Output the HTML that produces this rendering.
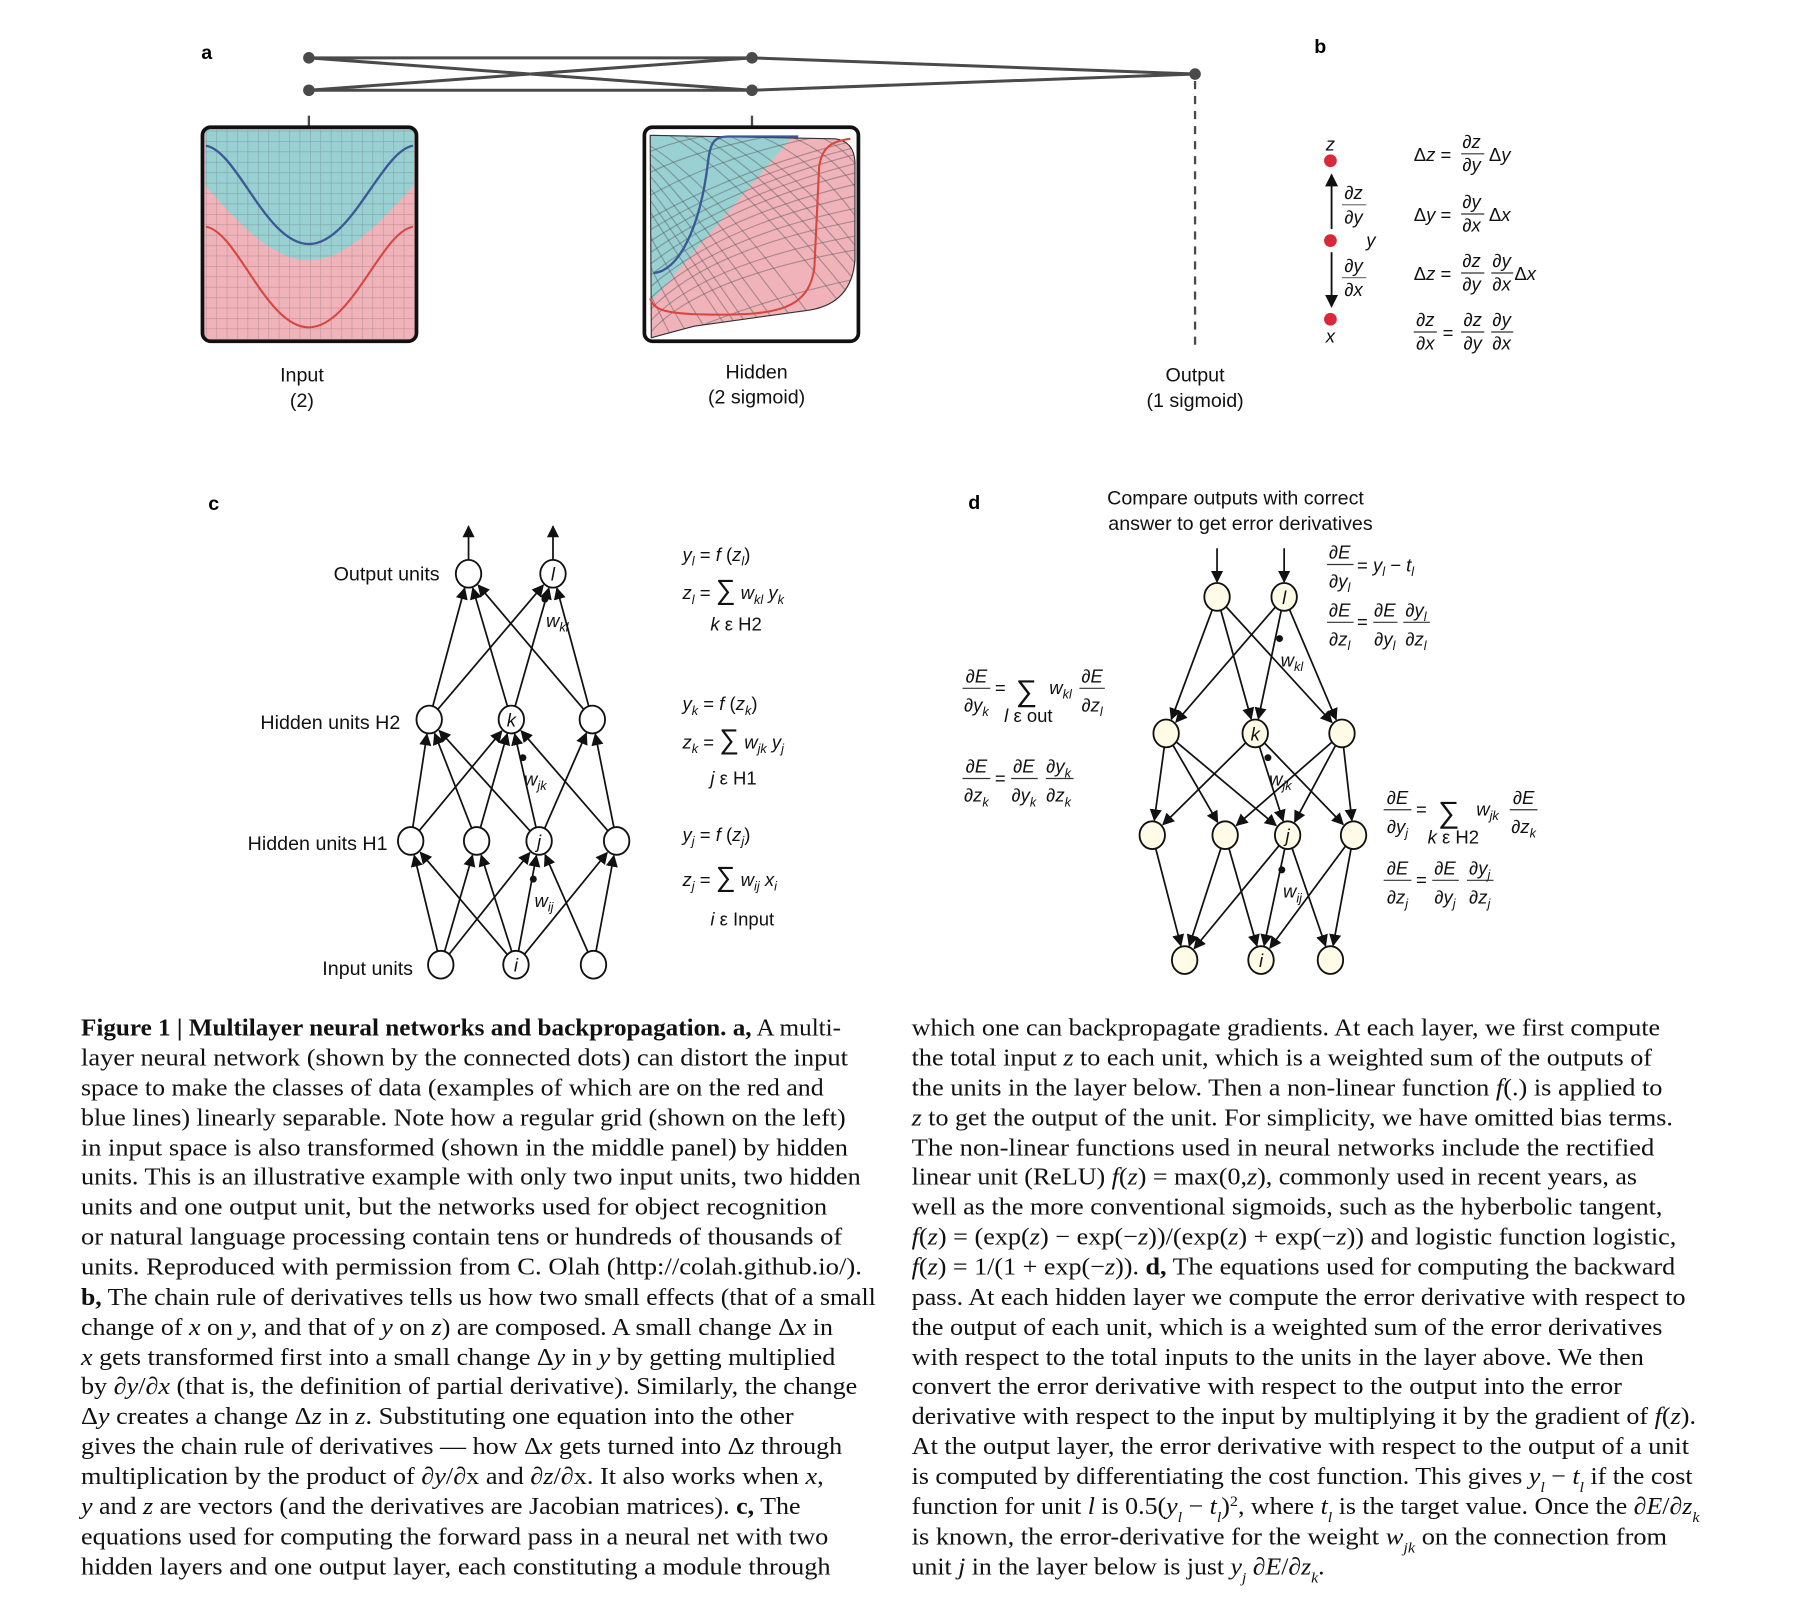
<!DOCTYPE html>
<html><head><meta charset="utf-8">
<style>
html,body{margin:0;padding:0;background:#fff;}
svg{display:block;}
.sans{font-family:"Liberation Sans",sans-serif;}
.serif{font-family:"Liberation Serif",serif;}
.cap{font-family:"Liberation Serif",serif;font-size:21px;fill:#111;}
.lbl{font-family:"Liberation Sans",sans-serif;font-size:17px;fill:#111;}
.eq{font-family:"Liberation Sans",sans-serif;font-size:16px;fill:#111;}
.it{font-style:italic;}
</style></head>
<body>
<svg id="fig" width="1814" height="1616" viewBox="0 0 1568 1397" preserveAspectRatio="none" xmlns="http://www.w3.org/2000/svg">
<defs>
<pattern id="grid" width="9" height="9" patternUnits="userSpaceOnUse" x="178" y="113">
<path d="M0 0H9M0 0V9" stroke="#555" stroke-opacity="0.35" stroke-width="1" fill="none"/>
</pattern>
<clipPath id="hidClip"><path d="M562 117 L722 120 Q738 122 739 140 L739 225 Q736 262 700 268 L600 282 Q570 290 563 292 Z"/></clipPath>
<marker id="ah" viewBox="0 0 10 10" refX="9" refY="5" markerWidth="7" markerHeight="7" orient="auto"><path d="M0 0 L10 5 L0 10 Z" fill="#111"/></marker>
</defs>

<text x="174" y="51" class="sans" font-weight="bold" font-size="17">a</text>
<text x="1136" y="46" class="sans" font-weight="bold" font-size="17">b</text>
<text x="180" y="441" class="sans" font-weight="bold" font-size="17">c</text>
<text x="837" y="440" class="sans" font-weight="bold" font-size="17">d</text>

<g stroke="#4a4a4a" stroke-width="2.6" fill="none">
<line x1="267" y1="50" x2="650" y2="50"/>
<line x1="267" y1="78" x2="650" y2="78"/>
<line x1="267" y1="50" x2="650" y2="78"/>
<line x1="267" y1="78" x2="650" y2="50"/>
<line x1="650" y1="50" x2="1033" y2="64"/>
<line x1="650" y1="78" x2="1033" y2="64"/>
<line x1="267" y1="100" x2="267" y2="109" stroke-width="2"/>
<line x1="650" y1="100" x2="650" y2="109" stroke-width="2"/>
<line x1="1033" y1="70" x2="1033" y2="298" stroke-dasharray="7,6" stroke-width="2"/>
</g>
<g fill="#4a4a4a">
<circle cx="267" cy="50" r="5"/><circle cx="267" cy="78" r="5"/>
<circle cx="650" cy="50" r="5"/><circle cx="650" cy="78" r="5"/>
<circle cx="1033" cy="64" r="5"/>
</g>

<g>
<rect x="175" y="110" width="185" height="185" rx="7" fill="#f1b3ba"/>
<path d="M177 112 L358 112 L358 160 C330 190 300 225 267 225 C234 225 204 190 177 160 Z" fill="#99d0d2"/>
<rect x="177" y="112" width="181" height="181" fill="url(#grid)"/>
<path d="M178 126 C205 130 230 211 267 211 C304 211 330 130 357 126" stroke="#3b5996" stroke-width="2" fill="none"/>
<path d="M178 196 C205 200 230 283 267 283 C304 283 330 200 357 196" stroke="#d8463f" stroke-width="1.8" fill="none"/>
<rect x="175" y="110" width="185" height="185" rx="7" fill="none" stroke="#111" stroke-width="3.2"/>
</g>

<g>
<g clip-path="url(#hidClip)">
<rect x="555" y="110" width="190" height="190" fill="#f1b3ba"/>
<path d="M555 110 L692 110 L562 262 L555 262 Z" fill="#99d0d2"/>
<g stroke="#555" stroke-opacity="0.45" stroke-width="1" fill="none">
<path d="M560 140 Q600 180 700 320"/><path d="M560 125 Q620 160 720 300"/><path d="M575 115 Q640 150 740 280"/>
<path d="M600 115 Q660 145 745 250"/><path d="M625 115 Q685 140 745 220"/><path d="M650 115 Q705 135 745 195"/>
<path d="M675 115 Q720 130 745 170"/><path d="M700 115 Q730 125 745 150"/><path d="M560 160 Q590 200 680 330"/>
<path d="M560 180 Q585 220 660 330"/><path d="M560 200 Q580 240 640 330"/><path d="M560 225 Q575 260 620 330"/>
<path d="M560 250 Q572 275 600 330"/><path d="M587 115 Q650 148 742 265"/><path d="M612 115 Q672 142 745 235"/>
<path d="M560 132 Q610 170 710 310"/><path d="M560 150 Q595 190 690 325"/><path d="M560 170 Q588 210 670 330"/>
<path d="M560 290 Q600 240 745 215"/><path d="M560 270 Q610 215 745 190"/><path d="M560 250 Q620 195 745 168"/>
<path d="M560 230 Q630 175 745 148"/><path d="M560 210 Q635 160 745 132"/><path d="M560 190 Q640 145 745 120"/>
<path d="M560 170 Q630 130 740 112"/><path d="M560 150 Q610 125 700 112"/><path d="M560 132 Q590 118 650 112"/>
<path d="M575 295 Q650 260 745 240"/><path d="M600 295 Q680 275 745 262"/>
<path d="M560 280 Q605 228 745 203"/><path d="M560 260 Q615 205 745 179"/><path d="M560 240 Q625 185 745 158"/>
<path d="M560 220 Q632 168 745 140"/><path d="M560 200 Q638 152 745 126"/>
</g>
</g>
<path d="M562 117 L722 120 Q738 122 739 140 L739 225 Q736 262 700 268 L600 282 Q570 290 563 292 Z" fill="none" stroke="#333" stroke-width="1"/>
<path d="M565 236 C585 235 605 200 612 140 C614 122 618 118 630 118 L690 118" stroke="#3b5996" stroke-width="2" fill="none"/>
<path d="M562 258 C565 268 575 272 620 272 C670 272 700 268 704 230 L708 145 C710 128 718 122 735 120" stroke="#d8463f" stroke-width="1.8" fill="none"/>
<rect x="557" y="110" width="185" height="185" rx="7" fill="none" stroke="#111" stroke-width="3.2"/>
</g>

<g class="lbl" text-anchor="middle">
<text x="261" y="330">Input</text><text x="261" y="352">(2)</text>
<text x="654" y="327">Hidden</text><text x="654" y="349">(2 sigmoid)</text>
<text x="1033" y="330">Output</text><text x="1033" y="352">(1 sigmoid)</text>
</g>

<g>
<circle cx="1150" cy="139" r="5.5" fill="#d9283a"/>
<circle cx="1150" cy="208" r="5.5" fill="#d9283a"/>
<circle cx="1150" cy="276" r="5.5" fill="#d9283a"/>
<text x="1150" y="130" class="eq it" text-anchor="middle">z</text>
<text x="1185" y="213" class="eq it" text-anchor="middle">y</text>
<text x="1150" y="296" class="eq it" text-anchor="middle">x</text>
<line x1="1151" y1="198" x2="1151" y2="151" stroke="#111" stroke-width="1.6" marker-end="url(#ah)"/>
<line x1="1151" y1="218" x2="1151" y2="265" stroke="#111" stroke-width="1.6" marker-end="url(#ah)"/>
<g class="eq" text-anchor="middle">
<text x="1170" y="172">∂<tspan class="it">z</tspan></text><line x1="1160" y1="177" x2="1181" y2="177" stroke="#777"/><text x="1170" y="193">∂<tspan class="it">y</tspan></text>
<text x="1170" y="235">∂<tspan class="it">y</tspan></text><line x1="1160" y1="240" x2="1181" y2="240" stroke="#777"/><text x="1170" y="256">∂<tspan class="it">x</tspan></text>
</g>
<g class="eq">
<text x="1222" y="139">Δ<tspan class="it">z</tspan> =</text>
<text x="1272" y="128" text-anchor="middle">∂<tspan class="it">z</tspan></text><line x1="1263" y1="133" x2="1283" y2="133" stroke="#333"/><text x="1272" y="148" text-anchor="middle">∂<tspan class="it">y</tspan></text>
<text x="1287" y="139">Δ<tspan class="it">y</tspan></text>
<text x="1222" y="191">Δ<tspan class="it">y</tspan> =</text>
<text x="1272" y="180" text-anchor="middle">∂<tspan class="it">y</tspan></text><line x1="1263" y1="185" x2="1283" y2="185" stroke="#333"/><text x="1272" y="200" text-anchor="middle">∂<tspan class="it">x</tspan></text>
<text x="1287" y="191">Δ<tspan class="it">x</tspan></text>
<text x="1222" y="242">Δ<tspan class="it">z</tspan> =</text>
<text x="1272" y="231" text-anchor="middle">∂<tspan class="it">z</tspan></text><line x1="1263" y1="236" x2="1283" y2="236" stroke="#333"/><text x="1272" y="251" text-anchor="middle">∂<tspan class="it">y</tspan></text>
<text x="1298" y="231" text-anchor="middle">∂<tspan class="it">y</tspan></text><line x1="1289" y1="236" x2="1308" y2="236" stroke="#333"/><text x="1298" y="251" text-anchor="middle">∂<tspan class="it">x</tspan></text>
<text x="1309" y="242">Δ<tspan class="it">x</tspan></text>
<text x="1232" y="282" text-anchor="middle">∂<tspan class="it">z</tspan></text><line x1="1222" y1="287" x2="1242" y2="287" stroke="#333"/><text x="1232" y="302" text-anchor="middle">∂<tspan class="it">x</tspan></text>
<text x="1247" y="293">=</text>
<text x="1273" y="282" text-anchor="middle">∂<tspan class="it">z</tspan></text><line x1="1263" y1="287" x2="1283" y2="287" stroke="#333"/><text x="1273" y="302" text-anchor="middle">∂<tspan class="it">y</tspan></text>
<text x="1298" y="282" text-anchor="middle">∂<tspan class="it">y</tspan></text><line x1="1289" y1="287" x2="1308" y2="287" stroke="#333"/><text x="1298" y="302" text-anchor="middle">∂<tspan class="it">x</tspan></text>
</g>
</g>

<g id="netC"></g>
<g class="lbl" text-anchor="end">
<text x="380" y="502">Output units</text>
<text x="346" y="630">Hidden units H2</text>
<text x="335" y="735">Hidden units H1</text>
<text x="357" y="843">Input units</text>
</g>
<g class="eq">
<text x="590" y="485"><tspan class="it">y<tspan font-size="11" dy="4">l</tspan></tspan><tspan dy="-4"> = </tspan><tspan class="it">f</tspan> (<tspan class="it">z<tspan font-size="11" dy="4">l</tspan></tspan><tspan dy="-4">)</tspan></text>
<text x="590" y="518"><tspan class="it">z<tspan font-size="11" dy="4">l</tspan></tspan><tspan dy="-4"> = </tspan><tspan font-size="24">∑</tspan> <tspan class="it">w<tspan font-size="11" dy="4">kl</tspan></tspan><tspan class="it" dy="-4"> y<tspan font-size="11" dy="4">k</tspan></tspan></text>
<text x="614" y="545"><tspan class="it">k</tspan> ε H2</text>
<text x="590" y="614"><tspan class="it">y<tspan font-size="11" dy="4">k</tspan></tspan><tspan dy="-4"> = </tspan><tspan class="it">f</tspan> (<tspan class="it">z<tspan font-size="11" dy="4">k</tspan></tspan><tspan dy="-4">)</tspan></text>
<text x="590" y="647"><tspan class="it">z<tspan font-size="11" dy="4">k</tspan></tspan><tspan dy="-4"> = </tspan><tspan font-size="24">∑</tspan> <tspan class="it">w<tspan font-size="11" dy="4">jk</tspan></tspan><tspan class="it" dy="-4"> y<tspan font-size="11" dy="4">j</tspan></tspan></text>
<text x="614" y="678"><tspan class="it">j</tspan> ε H1</text>
<text x="590" y="727"><tspan class="it">y<tspan font-size="11" dy="4">j</tspan></tspan><tspan dy="-4"> = </tspan><tspan class="it">f</tspan> (<tspan class="it">z<tspan font-size="11" dy="4">j</tspan></tspan><tspan dy="-4">)</tspan></text>
<text x="590" y="766"><tspan class="it">z<tspan font-size="11" dy="4">j</tspan></tspan><tspan dy="-4"> =  </tspan><tspan font-size="24">∑</tspan>  <tspan class="it">w<tspan font-size="11" dy="4">ij</tspan></tspan><tspan class="it" dy="-4"> x<tspan font-size="11" dy="4">i</tspan></tspan></text>
<text x="614" y="800"><tspan class="it">i</tspan> ε Input</text>
</g>

<g id="netD"></g>
<g class="lbl">
<text x="957" y="436">Compare outputs with correct</text>
<text x="958" y="458">answer to get error derivatives</text>
</g>
<g class="eq">
<text x="1158" y="483" text-anchor="middle">∂<tspan class="it">E</tspan></text><line x1="1147" y1="488" x2="1170" y2="488" stroke="#333"/><text x="1158" y="508" text-anchor="middle">∂<tspan class="it">y<tspan font-size="11" dy="4">l</tspan></tspan></text>
<text x="1173" y="494">= <tspan class="it">y<tspan font-size="11" dy="4">l</tspan></tspan><tspan dy="-4"> − </tspan><tspan class="it">t<tspan font-size="11" dy="4">l</tspan></tspan></text>
<text x="1158" y="533" text-anchor="middle">∂<tspan class="it">E</tspan></text><line x1="1147" y1="538" x2="1170" y2="538" stroke="#333"/><text x="1158" y="558" text-anchor="middle">∂<tspan class="it">z<tspan font-size="11" dy="4">l</tspan></tspan></text>
<text x="1173" y="543">=</text>
<text x="1197" y="533" text-anchor="middle">∂<tspan class="it">E</tspan></text><line x1="1187" y1="538" x2="1208" y2="538" stroke="#333"/><text x="1197" y="558" text-anchor="middle">∂<tspan class="it">y<tspan font-size="11" dy="4">l</tspan></tspan></text>
<text x="1224" y="533" text-anchor="middle">∂<tspan class="it">y<tspan font-size="11" dy="4">l</tspan></tspan></text><line x1="1213" y1="538" x2="1236" y2="538" stroke="#333"/><text x="1224" y="558" text-anchor="middle">∂<tspan class="it">z<tspan font-size="11" dy="4">l</tspan></tspan></text>

<text x="844" y="590" text-anchor="middle">∂<tspan class="it">E</tspan></text><line x1="832" y1="595" x2="856" y2="595" stroke="#333"/><text x="844" y="615" text-anchor="middle">∂<tspan class="it">y<tspan font-size="11" dy="4">k</tspan></tspan></text>
<text x="860" y="600">=</text><text x="878" y="606" font-size="26">∑</text>
<text x="907" y="600" class="it">w<tspan font-size="11" dy="4">kl</tspan></text>
<text x="868" y="624"><tspan class="it">l</tspan> ε out</text>
<text x="944" y="590" text-anchor="middle">∂<tspan class="it">E</tspan></text><line x1="933" y1="595" x2="955" y2="595" stroke="#333"/><text x="944" y="615" text-anchor="middle">∂<tspan class="it">z<tspan font-size="11" dy="4">l</tspan></tspan></text>

<text x="844" y="668" text-anchor="middle">∂<tspan class="it">E</tspan></text><line x1="832" y1="673" x2="856" y2="673" stroke="#333"/><text x="844" y="693" text-anchor="middle">∂<tspan class="it">z<tspan font-size="11" dy="4">k</tspan></tspan></text>
<text x="860" y="678">=</text>
<text x="885" y="668" text-anchor="middle">∂<tspan class="it">E</tspan></text><line x1="874" y1="673" x2="897" y2="673" stroke="#333"/><text x="885" y="693" text-anchor="middle">∂<tspan class="it">y<tspan font-size="11" dy="4">k</tspan></tspan></text>
<text x="915" y="668" text-anchor="middle">∂<tspan class="it">y<tspan font-size="11" dy="4">k</tspan></tspan></text><line x1="904" y1="673" x2="928" y2="673" stroke="#333"/><text x="915" y="693" text-anchor="middle">∂<tspan class="it">z<tspan font-size="11" dy="4">k</tspan></tspan></text>

<text x="1208" y="695" text-anchor="middle">∂<tspan class="it">E</tspan></text><line x1="1196" y1="700" x2="1220" y2="700" stroke="#333"/><text x="1208" y="720" text-anchor="middle">∂<tspan class="it">y<tspan font-size="11" dy="4">j</tspan></tspan></text>
<text x="1224" y="705">=</text><text x="1243" y="711" font-size="26">∑</text>
<text x="1276" y="705" class="it">w<tspan font-size="11" dy="4">jk</tspan></text>
<text x="1234" y="729"><tspan class="it">k</tspan> ε H2</text>
<text x="1317" y="695" text-anchor="middle">∂<tspan class="it">E</tspan></text><line x1="1305" y1="700" x2="1329" y2="700" stroke="#333"/><text x="1317" y="720" text-anchor="middle">∂<tspan class="it">z<tspan font-size="11" dy="4">k</tspan></tspan></text>

<text x="1208" y="756" text-anchor="middle">∂<tspan class="it">E</tspan></text><line x1="1196" y1="761" x2="1220" y2="761" stroke="#333"/><text x="1208" y="781" text-anchor="middle">∂<tspan class="it">z<tspan font-size="11" dy="4">j</tspan></tspan></text>
<text x="1224" y="766">=</text>
<text x="1249" y="756" text-anchor="middle">∂<tspan class="it">E</tspan></text><line x1="1238" y1="761" x2="1261" y2="761" stroke="#333"/><text x="1249" y="781" text-anchor="middle">∂<tspan class="it">y<tspan font-size="11" dy="4">j</tspan></tspan></text>
<text x="1279" y="756" text-anchor="middle">∂<tspan class="it">y<tspan font-size="11" dy="4">j</tspan></tspan></text><line x1="1268" y1="761" x2="1291" y2="761" stroke="#333"/><text x="1279" y="781" text-anchor="middle">∂<tspan class="it">z<tspan font-size="11" dy="4">j</tspan></tspan></text>
</g>

<g class="cap">
<text x="70" y="895" textLength="657" lengthAdjust="spacingAndGlyphs"><tspan font-weight="bold">Figure 1 | Multilayer neural networks and backpropagation.  a,</tspan> A multi-</text>
<text x="70" y="921" textLength="663" lengthAdjust="spacingAndGlyphs">layer neural network (shown by the connected dots) can distort the input</text>
<text x="70" y="947" textLength="642" lengthAdjust="spacingAndGlyphs">space to make the classes of data (examples of which are on the red and</text>
<text x="70" y="973" textLength="661" lengthAdjust="spacingAndGlyphs">blue lines) linearly separable. Note how a regular grid (shown on the left)</text>
<text x="70" y="999" textLength="663" lengthAdjust="spacingAndGlyphs">in input space is also transformed (shown in the middle panel) by hidden</text>
<text x="70" y="1024" textLength="674" lengthAdjust="spacingAndGlyphs">units. This is an illustrative example with only two input units, two hidden</text>
<text x="70" y="1050" textLength="645" lengthAdjust="spacingAndGlyphs">units and one output unit, but the networks used for object recognition</text>
<text x="70" y="1076" textLength="658" lengthAdjust="spacingAndGlyphs">or natural language processing contain tens or hundreds of thousands of</text>
<text x="70" y="1102" textLength="675" lengthAdjust="spacingAndGlyphs">units. Reproduced with permission from C. Olah (http://colah.github.io/).</text>
<text x="70" y="1128" textLength="687" lengthAdjust="spacingAndGlyphs"><tspan font-weight="bold">b,</tspan> The chain rule of derivatives tells us how two small effects (that of a small</text>
<text x="70" y="1154" textLength="650" lengthAdjust="spacingAndGlyphs">change of <tspan class="it">x</tspan> on <tspan class="it">y</tspan>, and that of <tspan class="it">y</tspan> on <tspan class="it">z</tspan>) are composed. A small change Δ<tspan class="it">x</tspan> in</text>
<text x="70" y="1180" textLength="652" lengthAdjust="spacingAndGlyphs"><tspan class="it">x</tspan> gets transformed first into a small change Δ<tspan class="it">y</tspan> in <tspan class="it">y</tspan> by getting multiplied</text>
<text x="70" y="1205" textLength="671" lengthAdjust="spacingAndGlyphs">by ∂<tspan class="it">y</tspan>/∂<tspan class="it">x</tspan> (that is, the definition of partial derivative). Similarly, the change</text>
<text x="70" y="1231" textLength="616" lengthAdjust="spacingAndGlyphs">Δ<tspan class="it">y</tspan> creates a change Δ<tspan class="it">z</tspan> in <tspan class="it">z</tspan>. Substituting one equation into the other</text>
<text x="70" y="1257" textLength="658" lengthAdjust="spacingAndGlyphs">gives the chain rule of derivatives — how Δ<tspan class="it">x</tspan> gets turned into Δ<tspan class="it">z</tspan> through</text>
<text x="70" y="1283" textLength="642" lengthAdjust="spacingAndGlyphs">multiplication by the product of ∂<tspan class="it">y</tspan>/∂x and ∂<tspan class="it">z</tspan>/∂x. It also works when <tspan class="it">x</tspan>,</text>
<text x="70" y="1309" textLength="622" lengthAdjust="spacingAndGlyphs"><tspan class="it">y</tspan> and <tspan class="it">z</tspan> are vectors (and the derivatives are Jacobian matrices). <tspan font-weight="bold">c,</tspan> The</text>
<text x="70" y="1335" textLength="646" lengthAdjust="spacingAndGlyphs">equations used for computing the forward pass in a neural net with two</text>
<text x="70" y="1361" textLength="648" lengthAdjust="spacingAndGlyphs">hidden layers and one output layer, each constituting a module through</text>
</g>
<g class="cap">
<text x="788" y="895" textLength="647" lengthAdjust="spacingAndGlyphs">which one can backpropagate gradients. At each layer, we first compute</text>
<text x="788" y="921" textLength="640" lengthAdjust="spacingAndGlyphs">the total input <tspan class="it">z</tspan> to each unit, which is a weighted sum of the outputs of</text>
<text x="788" y="947" textLength="649" lengthAdjust="spacingAndGlyphs">the units in the layer below. Then a non-linear function <tspan class="it">f</tspan>(.) is applied to</text>
<text x="788" y="973" textLength="658" lengthAdjust="spacingAndGlyphs"><tspan class="it">z</tspan> to get the output of the unit. For simplicity, we have omitted bias terms.</text>
<text x="788" y="999" textLength="642" lengthAdjust="spacingAndGlyphs">The non-linear functions used in neural networks include the rectified</text>
<text x="788" y="1024" textLength="627" lengthAdjust="spacingAndGlyphs">linear unit (ReLU) <tspan class="it">f</tspan>(<tspan class="it">z</tspan>) = max(0,<tspan class="it">z</tspan>), commonly used in recent years, as</text>
<text x="788" y="1050" textLength="649" lengthAdjust="spacingAndGlyphs">well as the more conventional sigmoids, such as the hyberbolic tangent,</text>
<text x="788" y="1076" textLength="661" lengthAdjust="spacingAndGlyphs"><tspan class="it">f</tspan>(<tspan class="it">z</tspan>) = (exp(<tspan class="it">z</tspan>) − exp(−<tspan class="it">z</tspan>))/(exp(<tspan class="it">z</tspan>) + exp(−<tspan class="it">z</tspan>)) and logistic function logistic,</text>
<text x="788" y="1102" textLength="660" lengthAdjust="spacingAndGlyphs"><tspan class="it">f</tspan>(<tspan class="it">z</tspan>) = 1/(1 + exp(−<tspan class="it">z</tspan>)). <tspan font-weight="bold">d,</tspan> The equations used for computing the backward</text>
<text x="788" y="1128" textLength="669" lengthAdjust="spacingAndGlyphs">pass. At each hidden layer we compute the error derivative with respect to</text>
<text x="788" y="1154" textLength="649" lengthAdjust="spacingAndGlyphs">the output of each unit, which is a weighted sum of the error derivatives</text>
<text x="788" y="1180" textLength="633" lengthAdjust="spacingAndGlyphs">with respect to the total inputs to the units in the layer above. We then</text>
<text x="788" y="1205" textLength="614" lengthAdjust="spacingAndGlyphs">convert the error derivative with respect to the output into the error</text>
<text x="788" y="1231" textLength="678" lengthAdjust="spacingAndGlyphs">derivative with respect to the input by multiplying it by the gradient of <tspan class="it">f</tspan>(<tspan class="it">z</tspan>).</text>
<text x="788" y="1257" textLength="672" lengthAdjust="spacingAndGlyphs">At the output layer, the error derivative with respect to the output of a unit</text>
<text x="788" y="1283" textLength="675" lengthAdjust="spacingAndGlyphs">is computed by differentiating the cost function. This gives <tspan class="it">y</tspan><tspan class="it" font-size="13" baseline-shift="sub">l</tspan> − <tspan class="it">t</tspan><tspan class="it" font-size="13" baseline-shift="sub">l</tspan> if the cost</text>
<text x="788" y="1309" textLength="681" lengthAdjust="spacingAndGlyphs">function for unit <tspan class="it">l</tspan> is 0.5(<tspan class="it">y</tspan><tspan class="it" font-size="13" baseline-shift="sub">l</tspan> − <tspan class="it">t</tspan><tspan class="it" font-size="13" baseline-shift="sub">l</tspan>)<tspan font-size="13" baseline-shift="super">2</tspan>, where <tspan class="it">t</tspan><tspan class="it" font-size="13" baseline-shift="sub">l</tspan> is the target value. Once the ∂<tspan class="it">E</tspan>/∂<tspan class="it">z</tspan><tspan class="it" font-size="13" baseline-shift="sub">k</tspan></text>
<text x="788" y="1335" textLength="653" lengthAdjust="spacingAndGlyphs">is known, the error-derivative for the weight <tspan class="it">w</tspan><tspan class="it" font-size="13" baseline-shift="sub">jk</tspan> on the connection from</text>
<text x="788" y="1361" textLength="357" lengthAdjust="spacingAndGlyphs">unit <tspan class="it">j</tspan> in the layer below is just <tspan class="it">y</tspan><tspan class="it" font-size="13" baseline-shift="sub">j</tspan> ∂<tspan class="it">E</tspan>/∂<tspan class="it">z</tspan><tspan class="it" font-size="13" baseline-shift="sub">k</tspan>.</text>
</g>
</svg>

<script>
const cOut = [[405,496],[478,496]];
const cH2 = [[371,622],[442,622],[512,622]];
const cH1 = [[355,727],[412,727],[466,727],[533,727]];
const cIn = [[381,834],[446,834],[513,834]];
const cInToH1 = [[0,0],[0,1],[0,2],[1,1],[1,2],[1,3],[2,2],[2,3],[1,0]];
const cH1ToH2 = [[0,0],[0,1],[1,0],[1,1],[2,0],[2,1],[2,2],[3,1],[3,2]];
const cH2ToOut = [[0,0],[0,1],[1,0],[1,1],[2,0],[2,1]];

const dOut = [[1052,516],[1110,516]];
const dH2 = [[1008,634],[1085,634],[1160,634]];
const dH1 = [[996,722],[1059,722],[1113,722],[1170,722]];
const dIn = [[1024,830],[1090,830],[1150,830]];
const dOutToH2 = [[0,0],[0,1],[0,2],[1,0],[1,1],[1,2]];
const dH2ToH1 = [[0,0],[0,1],[0,2],[1,0],[1,2],[1,3],[2,1],[2,2],[2,3]];
const dH1ToIn = [[0,0],[1,0],[1,1],[2,0],[2,1],[2,2],[3,1],[3,2]];

const NS = 'http://www.w3.org/2000/svg';
const R = 12;
function edge(g, a, b) {
  const dx = b[0]-a[0], dy = b[1]-a[1], L = Math.hypot(dx,dy);
  const ux = dx/L, uy = dy/L;
  const ln = document.createElementNS(NS,'line');
  ln.setAttribute('x1', a[0]+ux*R); ln.setAttribute('y1', a[1]+uy*R);
  ln.setAttribute('x2', b[0]-ux*(R+1)); ln.setAttribute('y2', b[1]-uy*(R+1));
  ln.setAttribute('stroke','#111'); ln.setAttribute('stroke-width','1.5');
  ln.setAttribute('marker-end','url(#ah)');
  
  
  g.appendChild(ln);
}
function node(g, p, fill, label) {
  const e = document.createElementNS(NS,'ellipse');
  e.setAttribute('cx',p[0]); e.setAttribute('cy',p[1]);
  e.setAttribute('rx',11); e.setAttribute('ry',12);
  e.setAttribute('fill',fill); e.setAttribute('stroke','#111'); e.setAttribute('stroke-width','1.6');
  
  
  g.appendChild(e);
  if (label) {
    const t = document.createElementNS(NS,'text');
    t.setAttribute('x',p[0]); t.setAttribute('y',p[1]+6);
    t.setAttribute('text-anchor','middle'); t.setAttribute('class','eq it');
    t.textContent = label;
    
    
    g.appendChild(t);
  }
}
function weightLabel(g, x, y, sub) {
  const c = document.createElementNS(NS,'circle');
  c.setAttribute('cx',x); c.setAttribute('cy',y); c.setAttribute('r',3); c.setAttribute('fill','#111');
  
  
  g.appendChild(c);
  const t = document.createElementNS(NS,'text');
  t.setAttribute('x',x+1); t.setAttribute('y',y+24); t.setAttribute('class','eq it');
  t.innerHTML = 'w<tspan font-size="11" dy="4">'+sub+'</tspan>';
  
  
  g.appendChild(t);
}

const gc = document.getElementById('netC');
cInToH1.forEach(e => edge(gc, cIn[e[0]], cH1[e[1]]));
cH1ToH2.forEach(e => edge(gc, cH1[e[0]], cH2[e[1]]));
cH2ToOut.forEach(e => edge(gc, cH2[e[0]], cOut[e[1]]));
cOut.forEach(p => edge(gc, [p[0], p[1]], [p[0], p[1]-54]));
weightLabel(gc, 471, 518, 'kl');
weightLabel(gc, 452, 655, 'jk');
weightLabel(gc, 461, 760, 'ij');
[[cOut,['','l']],[cH2,['','k','']],[cH1,['','','j','']],[cIn,['','i','']]].forEach(([L,lab]) => L.forEach((p,i)=>node(gc,p,'#fff',lab[i])));

const gd = document.getElementById('netD');
dOutToH2.forEach(e => edge(gd, dOut[e[0]], dH2[e[1]]));
dH2ToH1.forEach(e => edge(gd, dH2[e[0]], dH1[e[1]]));
dH1ToIn.forEach(e => edge(gd, dH1[e[0]], dIn[e[1]]));
dOut.forEach(p => edge(gd, [p[0], p[1]-54], [p[0], p[1]]));
weightLabel(gd, 1106, 552, 'kl');
weightLabel(gd, 1096, 655, 'jk');
weightLabel(gd, 1108, 752, 'ij');
[[dOut,['','l']],[dH2,['','k','']],[dH1,['','','j','']],[dIn,['','i','']]].forEach(([L,lab]) => L.forEach((p,i)=>node(gd,p,'#fffbe6',lab[i])));
</script>
</body></html>
